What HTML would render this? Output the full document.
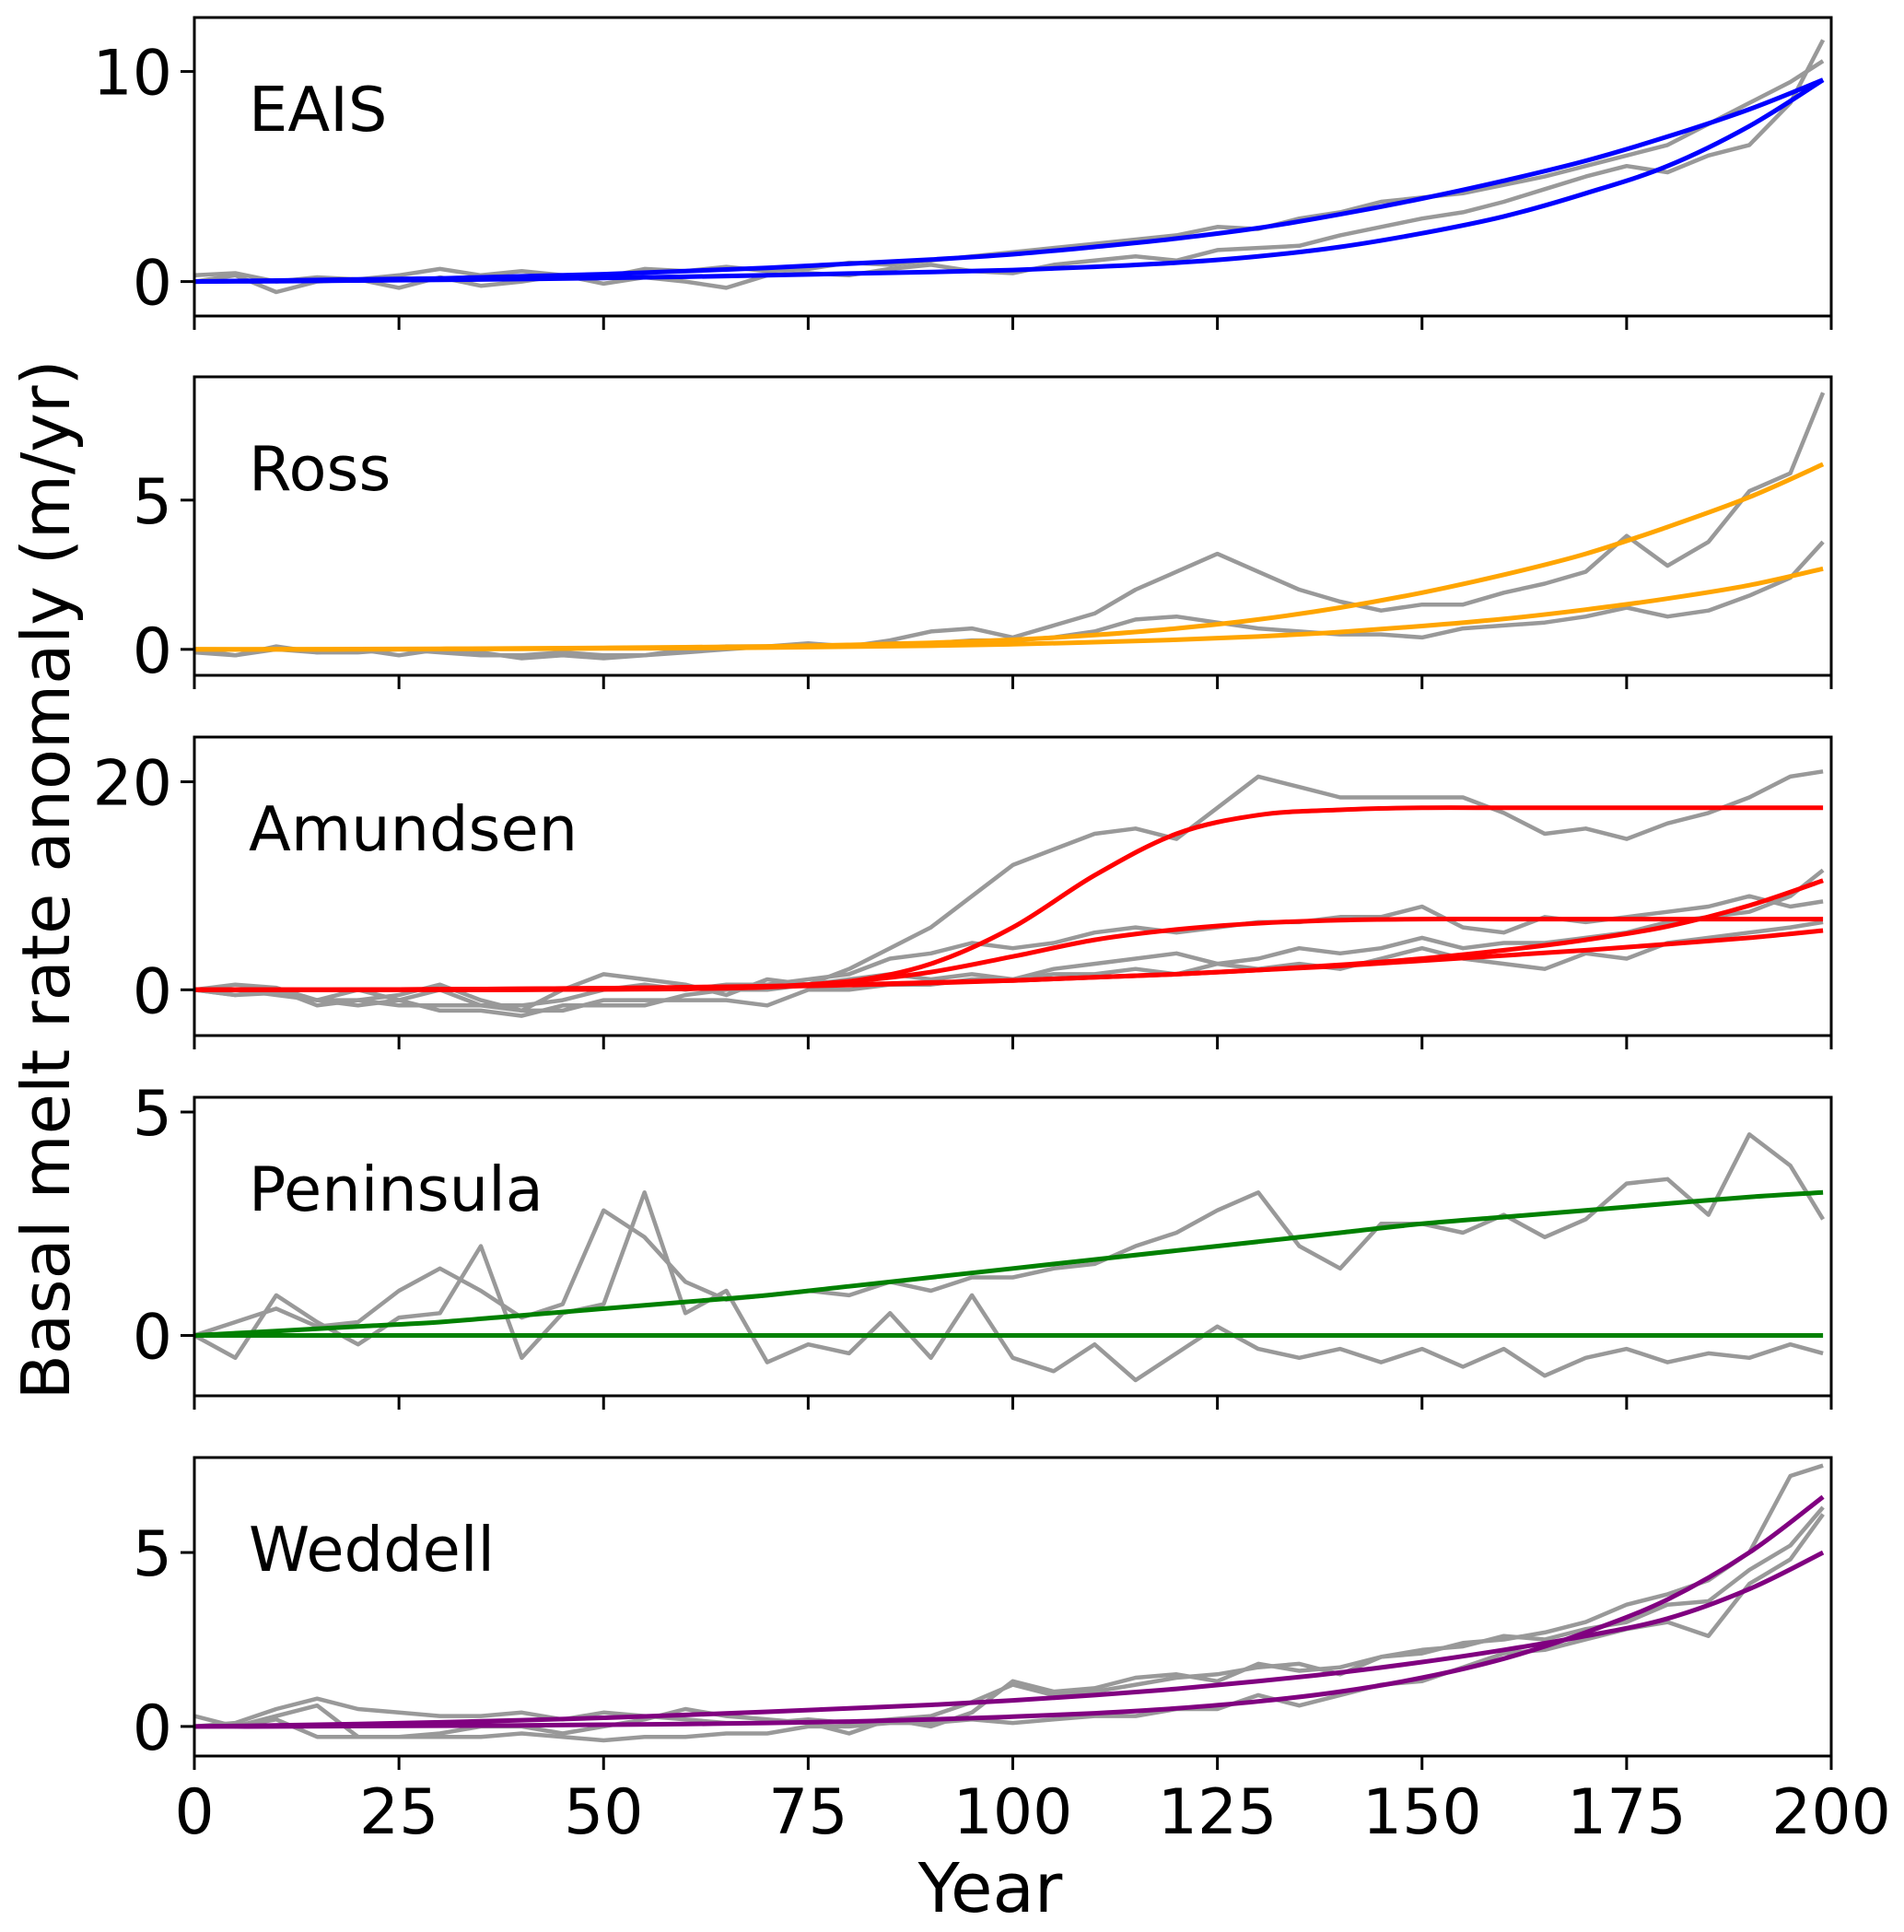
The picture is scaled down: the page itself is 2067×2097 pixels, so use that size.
<!DOCTYPE html>
<html><head><meta charset="utf-8"><style>
html,body{margin:0;padding:0;background:#fff}
svg{display:block}
text{font-family:"DejaVu Sans","Liberation Sans",sans-serif;fill:#000}
</style></head><body>
<svg id="chart" width="2067" height="2097" viewBox="0 0 2067 2097" xmlns="http://www.w3.org/2000/svg"></svg>
<script>
// ---- data ----
const xTicks = [0,25,50,75,100,125,150,175,200];
const panelNames = ["EAIS","Ross","Amundsen","Peninsula","Weddell"];
const fitColors = ["#0000ff","#ffa500","#ff0000","#008000","#800080"];
const yRanges = [[-1.64,12.57],[-0.87,9.13],[-4.4,24.3],[-1.35,5.33],[-0.85,7.73]];
const yTicks = [[0,10],[0,5],[0,20],[0,5],[0,5]];
// gray series sampled every 5 years (last point at year 199)
const eaisGrayA = [0.3,0.4,0.0,0.2,0.1,0.3,0.6,0.3,0.5,0.3,0.2,0.6,0.5,0.7,0.5,0.6,0.9,0.8,1.0,1.2,1.4,1.6,1.8,2.0,2.2,2.6,2.5,3.0,3.3,3.8,4.0,4.2,4.6,5.0,5.5,6.0,6.5,7.5,8.5,9.5,10.5];
const eaisGrayB = [0,0.3,-0.5,0.0,0.1,-0.3,0.2,-0.2,0.0,0.3,-0.1,0.2,0.0,-0.3,0.3,0.4,0.3,0.6,0.8,0.5,0.4,0.8,1.0,1.2,1.0,1.5,1.6,1.7,2.2,2.6,3.0,3.3,3.8,4.4,5.0,5.5,5.2,6.0,6.5,8.5,11.5];
const rossGrayA = [-0.1,-0.2,0,-0.1,0,-0.2,0,-0.1,-0.3,-0.2,-0.3,-0.2,0,0.1,0.1,0.2,0.1,0.3,0.6,0.7,0.4,0.8,1.2,2.0,2.6,3.2,2.6,2.0,1.6,1.3,1.5,1.5,1.9,2.2,2.6,3.8,2.8,3.6,5.3,5.9,8.6];
const rossGrayB = [0,-0.2,0.1,-0.1,-0.1,0,-0.1,-0.2,-0.2,-0.1,-0.2,-0.2,-0.1,0,0.1,0.1,0.1,0.2,0.2,0.3,0.3,0.4,0.6,1.0,1.1,0.9,0.7,0.6,0.5,0.5,0.4,0.7,0.8,0.9,1.1,1.4,1.1,1.3,1.8,2.4,3.6];
const amuGray1 = [0,-0.5,0,-1.5,-1,-0.5,0.5,-1,-2,0,1.5,1.0,0.5,-0.5,1.0,0.5,2,4,6,9,12,13.5,15,15.5,14.5,17.5,20.5,19.5,18.5,18.5,18.5,18.5,17,15,15.5,14.5,16,17,18.5,20.5,21];
const amuGray2 = [0,0.5,0.2,-1,0,-1,0,-1.5,-1.5,-1,0,0.5,0,0.5,0.5,1,1.5,3,3.5,4.5,4,4.5,5.5,6,5.5,6,6.5,6.5,7,7,8,6,5.5,7,6.5,7,7.5,8,9,8,8.5];
const amuGray3 = [0,0,-0.5,-1,-1.5,-1,-2,-2,-2.5,-1.5,-1.5,-1.5,-0.5,0,0,0.5,1,1.5,1,1.5,1,2,2.5,3,3.5,2.5,3,4,3.5,4,5,4,4.5,4.5,5,5.5,6.5,7,7.5,9,11.5];
const amuGray4 = [0,-0.5,-0.3,-1,-1,-1.5,-1.5,-1.5,-2,-2,-1,-1,-1,-1,-1.5,0,0,0.5,0.5,1,1,1.5,1.5,2,1.5,2.5,2,2.5,2,3,4,3,2.5,2,3.5,3,4.5,5,5.5,6,6.5];
const penGrayA = [0,0.3,0.6,0.2,0.3,1,1.5,1,0.4,0.7,2.8,2.2,1.2,0.8,0.9,1.0,0.9,1.2,1.0,1.3,1.3,1.5,1.6,2.0,2.3,2.8,3.2,2.0,1.5,2.5,2.5,2.3,2.7,2.2,2.6,3.4,3.5,2.7,4.5,3.8,2.6];
const penGrayB = [0,-0.5,0.9,0.3,-0.2,0.4,0.5,2,-0.5,0.5,0.7,3.2,0.5,1,-0.6,-0.2,-0.4,0.5,-0.5,0.9,-0.5,-0.8,-0.2,-1,-0.4,0.2,-0.3,-0.5,-0.3,-0.6,-0.3,-0.7,-0.3,-0.9,-0.5,-0.3,-0.6,-0.4,-0.5,-0.2,-0.4];
const wedGray1 = [0,0.1,0.5,0.8,0.5,0.4,0.3,0.3,0.4,0.2,0.4,0.3,0.2,0.1,0.1,0.2,0.1,0.2,0.3,0.7,1.2,0.9,1.0,1.2,1.4,1.5,1.7,1.8,1.5,2.0,2.2,2.3,2.6,2.5,2.8,3.0,3.5,3.6,4.5,5.2,6.3];
const wedGray2 = [0.3,0,0.3,0.6,-0.3,-0.3,-0.2,0,0,-0.2,0,0.2,0.5,0.3,0.2,0.1,-0.2,0.2,0,0.4,1.3,1.0,1.1,1.4,1.5,1.3,1.8,1.6,1.7,2.0,2.1,2.4,2.5,2.7,3.0,3.5,3.8,4.2,5.0,7.2,7.5];
const wedGray3 = [0,0,0.2,-0.3,-0.3,-0.3,-0.3,-0.3,-0.2,-0.3,-0.4,-0.3,-0.3,-0.2,-0.2,0,0,0.1,0.1,0.2,0.1,0.2,0.3,0.3,0.5,0.5,0.9,0.6,0.9,1.2,1.3,1.7,2.1,2.2,2.5,2.8,3.0,2.6,4.1,4.8,6.1];
// fitted curves sampled every 10 years (last at year 199)
const eaisFit1 = [0,0.05,0.1,0.15,0.25,0.35,0.5,0.65,0.85,1.05,1.3,1.65,2.05,2.55,3.2,3.95,4.8,5.75,6.9,8.2,9.6];
const eaisFit2 = [0,0.02,0.05,0.08,0.12,0.17,0.23,0.3,0.38,0.45,0.55,0.7,0.9,1.2,1.65,2.3,3.1,4.2,5.5,7.4,9.6];
const rossFit1 = [0,0,0.01,0.02,0.03,0.05,0.07,0.1,0.15,0.22,0.32,0.48,0.7,1.0,1.4,1.9,2.5,3.2,4.1,5.1,6.2];
const rossFit2 = [0,0,0,0.01,0.02,0.03,0.04,0.06,0.09,0.12,0.17,0.24,0.32,0.43,0.58,0.78,1.02,1.33,1.7,2.15,2.7];
const amuFit1 = [0,0,0,0,0,0.05,0.1,0.25,0.8,2.5,6,11,15,16.8,17.3,17.5,17.5,17.5,17.5,17.5,17.5];
const amuFit2 = [0,0,0,0,0,0.05,0.1,0.3,0.8,1.7,3.2,4.8,5.8,6.4,6.7,6.8,6.8,6.8,6.8,6.8,6.8];
const amuFit3 = [0,0,0,0.05,0.1,0.15,0.25,0.35,0.5,0.7,0.9,1.2,1.5,1.9,2.4,3.0,3.8,4.8,6.1,8.1,10.5];
const amuFit4 = [0,0,0,0.05,0.1,0.15,0.2,0.3,0.45,0.65,0.9,1.2,1.5,1.9,2.3,2.8,3.3,3.8,4.4,5.0,5.7];
const penFit1 = [0,0.1,0.2,0.3,0.45,0.6,0.75,0.9,1.1,1.3,1.5,1.7,1.9,2.1,2.3,2.5,2.65,2.8,2.95,3.1,3.2];
const penFit2 = [0,0,0,0,0,0,0,0,0,0,0,0,0,0,0,0,0,0,0,0,0];
const wedFit1 = [0,0,0.01,0.02,0.03,0.05,0.07,0.1,0.14,0.2,0.28,0.38,0.52,0.72,1.0,1.4,1.95,2.7,3.65,5.0,6.6];
const wedFit2 = [0,0.03,0.07,0.12,0.18,0.25,0.33,0.42,0.52,0.62,0.75,0.9,1.08,1.3,1.55,1.85,2.2,2.6,3.1,3.95,5.0];
const grays = [[eaisGrayA,eaisGrayB],[rossGrayA,rossGrayB],[amuGray1,amuGray2,amuGray3,amuGray4],[penGrayA,penGrayB],[wedGray1,wedGray2,wedGray3]];
const fits = [[eaisFit1,eaisFit2],[rossFit1,rossFit2],[amuFit1,amuFit2,amuFit3,amuFit4],[penFit1,penFit2],[wedFit1,wedFit2]];

// ---- layout ----
const NS = "http://www.w3.org/2000/svg";
const svg = document.getElementById("chart");
const L = 211, R = 1988;
const panelTops = [19,409,800,1191,1582];
const PH = 324;
function xs(v){ return L + (v/200)*(R-L); }
function mk(tag, attrs, parent){
  const e = document.createElementNS(NS, tag);
  for (const k in attrs) e.setAttribute(k, attrs[k]);
  (parent||svg).appendChild(e);
  return e;
}
function smoothPath(pts){
  let d = "M"+pts[0][0].toFixed(1)+","+pts[0][1].toFixed(1);
  for (let i=0;i<pts.length-1;i++){
    const p0 = pts[Math.max(0,i-1)], p1 = pts[i], p2 = pts[i+1], p3 = pts[Math.min(pts.length-1,i+2)];
    const c1x = p1[0]+(p2[0]-p0[0])/6, c1y = p1[1]+(p2[1]-p0[1])/6;
    const c2x = p2[0]-(p3[0]-p1[0])/6, c2y = p2[1]-(p3[1]-p1[1])/6;
    d += "C"+c1x.toFixed(1)+","+c1y.toFixed(1)+" "+c2x.toFixed(1)+","+c2y.toFixed(1)+" "+p2[0].toFixed(1)+","+p2[1].toFixed(1);
  }
  return d;
}

panelNames.forEach((name, p) => {
  const top = panelTops[p], bot = top + PH;
  const [y0,y1] = yRanges[p];
  const ys = v => bot - (v - y0)/(y1 - y0)*PH;
  const g = mk("g", {});
  
  
  const clipId = "clip"+p;
  const cp = mk("clipPath", {id: clipId}, g);
  mk("rect", {x:L, y:top, width:R-L, height:PH}, cp);
  const plot = mk("g", {"clip-path":"url(#"+clipId+")"}, g);
  grays[p].forEach((arr, k) => {
    const pts = arr.map((v,i) => [xs(Math.min(i*5,199)), ys(v)]);
    const pl = mk("polyline", {points: pts.map(q=>q[0].toFixed(1)+","+q[1].toFixed(1)).join(" "), fill:"none", stroke:"#999999", "stroke-width":4.5, "stroke-linejoin":"round"}, plot);
    
    
  });
  fits[p].forEach((arr, k) => {
    const pts = arr.map((v,i) => [xs(Math.min(i*10,199)), ys(v)]);
    const pa = mk("path", {d: smoothPath(pts), fill:"none", stroke: fitColors[p], "stroke-width":5}, plot);
    
    
  });
  const frame = mk("rect", {x:L, y:top, width:R-L, height:PH, fill:"none", stroke:"#000", "stroke-width":3}, g);
  
  
  yTicks[p].forEach(t => {
    const y = ys(t);
    mk("line", {x1:L-15, x2:L, y1:y, y2:y, stroke:"#000", "stroke-width":3}, g);
    const tx = mk("text", {x:L-24, y:y+25, "text-anchor":"end", "font-size":68}, g);
    tx.textContent = t;
    
    
  });
  xTicks.forEach(t => {
    mk("line", {x1:xs(t), x2:xs(t), y1:bot, y2:bot+15, stroke:"#000", "stroke-width":3}, g);
    if (p === 4){
      const tx = mk("text", {x:xs(t), y:1990, "text-anchor":"middle", "font-size":68}, g);
      tx.textContent = t;
      
      
    }
  });
  const lab = mk("text", {x:270, y:top+123, "font-size":67}, g);
  lab.textContent = name;
  
  
});
const xl = mk("text", {x:1075, y:2075, "text-anchor":"middle", "font-size":74});
xl.textContent = "Year";


const yl = mk("text", {x:0, y:0, "text-anchor":"middle", "font-size":72, transform:"translate(75,955) rotate(-90)"});
yl.textContent = "Basal melt rate anomaly (m/yr)";


</script>
</body></html>
